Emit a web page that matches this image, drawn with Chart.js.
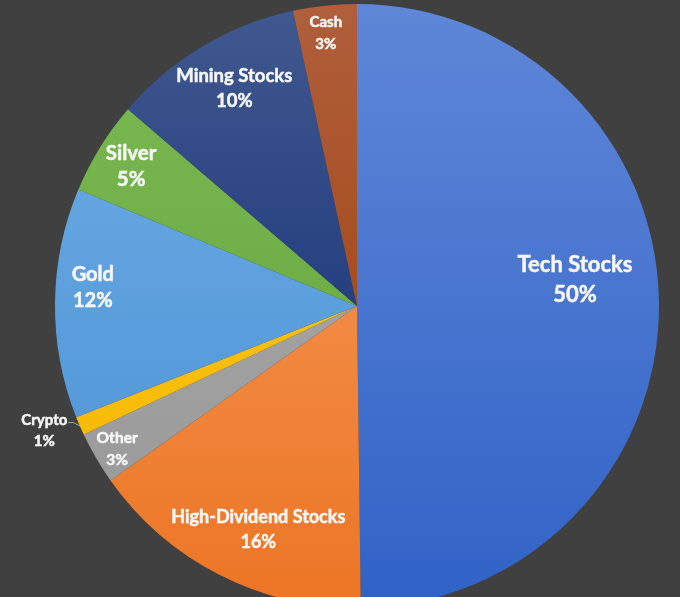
<!DOCTYPE html>
<html>
<head>
<meta charset="utf-8">
<script src="https://cdn.jsdelivr.net/npm/chart.js@4.4.1/dist/chart.umd.min.js"></script>
<style>
  html, body { margin: 0; padding: 0; background: #404040; }
  #wrap { position: relative; width: 680px; height: 597px; overflow: hidden; background: #404040; }
  #pie { position: absolute; left: 0; top: 0; }
</style>
</head>
<body>
<div id="wrap">
  <canvas id="pie" width="714" height="612" style="width:714px;height:612px"></canvas>
</div>
<script>
// portfolio split (clockwise from 12 o'clock)
const categories = ['Tech Stocks', 'High-Dividend Stocks', 'Other', 'Crypto', 'Gold', 'Silver', 'Mining Stocks', 'Cash'];
const shares = [49.8, 15.4, 2.8, 1.0, 12.3, 5.0, 10.3, 3.4];
const pctLabels = ['50%', '16%', '3%', '1%', '12%', '5%', '10%', '3%'];

// top / bottom colour of each slice's gradient
const palette = [
  ['#5F87D8', '#3062C6'],
  ['#F89E62', '#EC7524'],
  ['#AEAEAE', '#969696'],
  ['#FFC61A', '#F5B800'],
  ['#6EAEE4', '#4A90D6'],
  ['#7BBB52', '#62A13A'],
  ['#40598F', '#0A2470'],
  ['#B05F3C', '#9C3A00']
];

// label placement: radius fraction, angle nudge (deg), font px, line gap px
const labelStyle = [
  { f: 0.727, off: -6.4, size: 22, gap: 30 },
  { f: 0.81, off: -3.2, size: 18, gap: 25 },
  { f: 0.925, off: -0.6, size: 15.5, gap: 22 },
  { f: 1.115, off: 1.6, size: 15, gap: 21, outside: true },
  { f: 0.877, off: 3.4, size: 20, gap: 26 },
  { f: 0.88, off: 0.1, size: 20.5, gap: 26 },
  { f: 0.828, off: 1.4, size: 18.5, gap: 25 },
  { f: 0.91, off: -0.4, size: 15, gap: 22 }
];

const sliceLabels = {
  id: 'sliceLabels',
  afterDatasetsDraw(chart) {
    const c = chart.ctx;
    const arcs = chart.getDatasetMeta(0).data;
    c.save();
    c.fillStyle = '#F7F7F7';
    c.strokeStyle = '#F7F7F7';
    c.textAlign = 'center';
    c.textBaseline = 'middle';
    arcs.forEach((arc, i) => {
      const st = labelStyle[i];
      const mid = (arc.startAngle + arc.endAngle) / 2 + st.off * Math.PI / 180;
      const r = arc.outerRadius * st.f;
      const x = arc.x + Math.cos(mid) * r;
      const y = arc.y + Math.sin(mid) * r;
      c.font = 'bold ' + st.size + 'px Lato, "Open Sans", sans-serif';
      c.lineWidth = 0.5;
      c.strokeStyle = '#F7F7F7';
      [[categories[i], y - st.gap / 2], [pctLabels[i], y + st.gap / 2]].forEach(([t, ty]) => {
        c.fillText(t, x, ty);
        c.strokeText(t, x, ty);
      });
      if (st.outside) {
        // little leader line from the outside label to its slice
        const w = c.measureText(categories[i]).width;
        const m = (arc.startAngle + arc.endAngle) / 2;
        const ex = arc.x + Math.cos(m) * arc.outerRadius;
        const ey = arc.y + Math.sin(m) * arc.outerRadius;
        const sx = x + w / 2 + 1;
        const sy = y - st.gap / 2 + 2;
        c.strokeStyle = '#A6A6A6';
        c.lineWidth = 1;
        c.beginPath();
        c.moveTo(sx, sy);
        c.lineTo(sx + 5, sy);
        c.lineTo(ex, ey);
        c.stroke();
      }
    });
    c.restore();
  }
};

const ctx = document.getElementById('pie').getContext('2d');
new Chart(ctx, {
  type: 'pie',
  data: {
    labels: categories,
    datasets: [{
      data: shares,
      backgroundColor: (context) => {
        const pair = palette[context.dataIndex];
        const area = context.chart.chartArea;
        if (!area) return pair[1];
        const g = context.chart.ctx.createLinearGradient(0, area.top, 0, area.bottom);
        g.addColorStop(0, pair[0]);
        g.addColorStop(1, pair[1]);
        return g;
      },
      borderWidth: 0
    }]
  },
  options: {
    responsive: false,
    animation: false,
    events: [],
    layout: { padding: 4 },
    plugins: {
      legend: { display: false },
      tooltip: { enabled: false }
    }
  },
  plugins: [sliceLabels]
});
</script>
</body>
</html>
